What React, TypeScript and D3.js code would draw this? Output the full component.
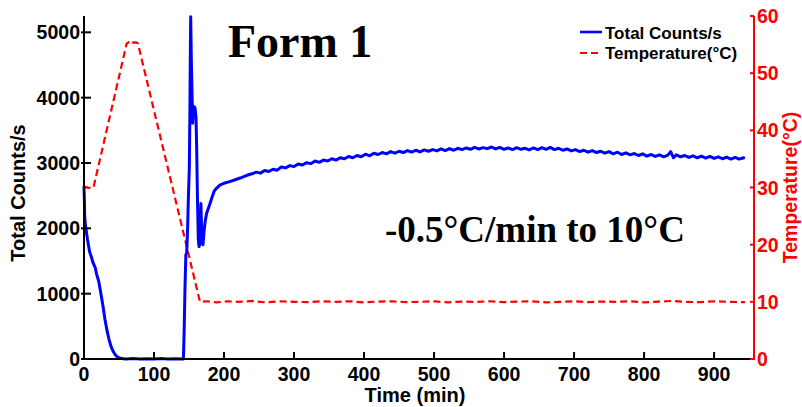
import React from "react";
import * as d3 from "d3";

const W = 802;
const H = 407;

// Total counts/s series (time in min, counts/s)
const countTime = [
  0, 0.5, 1, 2, 3, 5, 8, 10, 13, 16, 18, 21, 24, 27, 30, 33, 36, 39, 42, 45, 48, 52, 56, 60, 70, 80, 90, 100, 110, 120, 130, 140, 142,
  143, 144.3, 145.5, 146.7, 148, 149, 150.5, 151.4, 151.9, 152.4, 153.3, 154.3, 155.2, 156.2, 157.5, 158.6, 160, 161, 162, 163.3, 164.3,
  165.3, 166.3, 167, 167.8, 168.8, 170, 171.4, 173, 175.2, 178, 180, 183, 186, 188, 190, 194, 200, 208, 215, 223, 230, 235,
  240, 246, 252, 258, 264, 270, 276, 282, 288, 294, 300, 306, 312, 318, 324, 330, 336, 342, 348, 354, 360, 366, 372, 378, 384, 390,
  396, 402, 408, 414, 420, 426, 432, 438, 444, 450, 456, 462, 468, 474, 480, 486, 492, 498, 504, 510, 516, 522, 528, 534, 540, 546,
  552, 558, 564, 570, 576, 582, 588, 594, 600, 606, 612, 618, 624, 630, 636, 642, 648, 654, 660, 666, 672, 678, 684, 690, 696, 702,
  708, 714, 720, 726, 732, 738, 744, 750, 756, 762, 768, 774, 780, 786, 792, 798, 804, 810, 816, 822, 828, 834, 838, 842, 846, 852,
  858, 864, 870, 876, 882, 888, 894, 900, 906, 912, 918, 924, 930, 936, 942, 944,
];
const countValue = [
  2650, 2450, 2200, 2050, 1980, 1830, 1640, 1580, 1470, 1400, 1300, 1190, 1010, 820, 600, 430, 290, 180, 110, 60, 30, 10, 5, 0, 8, 0, 5, 0, 6, 0, 4, 0, 0,
  400, 1110, 1600, 1620, 2000, 2430, 2950, 3970, 4700, 5240, 4580, 4070, 3610, 3810, 3860, 3840, 3700, 3200, 2500, 1820, 1720,
  1750, 2100, 2380, 2050, 1780, 1750, 1950, 2100, 2230, 2320, 2380, 2480, 2570, 2600, 2620, 2660, 2690, 2715, 2740, 2770, 2800, 2820,
  2835, 2860, 2845, 2885, 2870, 2905, 2890, 2940, 2925, 2960, 2945, 2985, 2970, 3005, 2990, 3030, 3010, 3045, 3030, 3065, 3045, 3080, 3065, 3100, 3080, 3115,
  3095, 3135, 3110, 3150, 3130, 3160, 3140, 3175, 3150, 3180, 3160, 3190, 3165, 3195, 3170, 3200, 3180, 3205, 3185, 3215, 3190, 3220, 3195, 3225, 3205, 3230,
  3210, 3240, 3215, 3235, 3220, 3245, 3215, 3240, 3210, 3230, 3205, 3235, 3210, 3225, 3200, 3230, 3205, 3235, 3210, 3240, 3205, 3225, 3195, 3215, 3185, 3205,
  3175, 3195, 3165, 3190, 3160, 3180, 3150, 3175, 3140, 3165, 3130, 3155, 3125, 3145, 3115, 3140, 3105, 3130, 3100, 3125, 3095, 3120, 3175, 3080, 3125, 3095,
  3115, 3085, 3110, 3080, 3105, 3075, 3100, 3070, 3095, 3065, 3090, 3060, 3085, 3060, 3080, 3070,
];

// Temperature series (time in min, °C)
const tempTime = [
  0, 3, 6, 9, 12, 13.5, 61, 64, 66, 68, 71, 74, 77, 165.7, 175, 190, 205, 220, 240, 260, 280, 300, 320, 340, 360, 380, 400, 420,
  440, 460, 480, 500, 520, 540, 560, 580, 600, 620, 640, 660, 680, 700, 720, 740, 760, 780, 800, 820, 840, 860, 880, 900, 920, 944,
];
const tempValue = [
  30, 30.1, 29.9, 30, 30.1, 30, 55.2, 55.4, 55.2, 55.5, 55.3, 55.4, 55.2, 10, 10.1, 9.9, 10.1, 10, 10.15, 9.9, 10.1, 10, 9.95, 10.1, 10, 10.1, 9.9, 10.05,
  10.1, 9.95, 10, 10.1, 9.9, 10.05, 10, 10.1, 9.95, 10.05, 10.1, 9.9, 10, 10.1, 9.95, 10.05, 10, 10.1, 9.9, 10.05, 10.15, 10, 9.95, 10.1, 10, 9.95,
];

const xTicks = [0, 100, 200, 300, 400, 500, 600, 700, 800, 900];
const yLeftTicks = [0, 1000, 2000, 3000, 4000, 5000];
const yRightTicks = [0, 10, 20, 30, 40, 50, 60];

const X0 = 84, X1 = 754, Y0 = 359, Y1 = 16;

export default function App() {
  const x = d3.scaleLinear().domain([0, 957]).range([X0, X1]);
  const yL = d3.scaleLinear().domain([0, 5250]).range([Y0, Y1]);
  const yR = d3.scaleLinear().domain([0, 60]).range([Y0, Y1]);

  const countLine = d3
    .line<number>()
    .x((_, i) => x(countTime[i]))
    .y((d) => yL(d))(countValue) as string;
  const tempLine = d3
    .line<number>()
    .x((_, i) => x(tempTime[i]))
    .y((d) => yR(d))(tempValue) as string;

  const sans = "'Liberation Sans', Arial, Helvetica, sans-serif";
  const serif = "'Liberation Serif', 'Times New Roman', serif";

  return (
    <svg width={W} height={H} style={{ position: "absolute", left: 0, top: 0, background: "#fff" }}>
      <rect x={0} y={0} width={W} height={H} fill="#fff" />
      {/* data */}
      <path d={tempLine} fill="none" stroke="#ff0000" strokeWidth={2.2} strokeDasharray="7,4" />
      <path d={countLine} fill="none" stroke="#0000ff" strokeWidth={3} strokeLinejoin="round" />

      {/* axes */}
      <line x1={X0} x2={X1} y1={Y0} y2={Y0} stroke="#000" strokeWidth={2} />
      <line x1={X0} x2={X0} y1={Y1} y2={Y0} stroke="#000" strokeWidth={2} />
      <line x1={X1} x2={X1} y1={Y1} y2={Y0 + 1} stroke="#ff0000" strokeWidth={2} />

      {xTicks.map((t) => (
        <g key={"x" + t}>
          <line x1={x(t)} x2={x(t)} y1={Y0} y2={Y0 - 7} stroke="#000" strokeWidth={2} />
          <text x={x(t)} y={381} textAnchor="middle" fontFamily={sans} fontWeight="bold" fontSize={19.5}>
            {t}
          </text>
        </g>
      ))}
      {yLeftTicks.map((t) => (
        <g key={"l" + t}>
          <line x1={X0 - 3} x2={X0 + 7} y1={yL(t)} y2={yL(t)} stroke="#000" strokeWidth={2} />
          <text x={80} y={yL(t)} dy="0.36em" textAnchor="end" fontFamily={sans} fontWeight="bold" fontSize={19.5}>
            {t}
          </text>
        </g>
      ))}
      {yRightTicks.map((t) => (
        <g key={"r" + t}>
          <line x1={X1 - 4} x2={X1} y1={yR(t)} y2={yR(t)} stroke="#ff0000" strokeWidth={2} />
          <text x={757} y={yR(t)} dy="0.36em" textAnchor="start" fill="#ff0000" fontFamily={sans} fontWeight="bold" fontSize={19.5}>
            {t}
          </text>
        </g>
      ))}

      {/* axis titles */}
      <text x={415} y={402} textAnchor="middle" fontFamily={sans} fontWeight="bold" fontSize={20}>
        Time (min)
      </text>
      <text
        transform={`translate(25, 193) rotate(-90)`}
        textAnchor="middle"
        fontFamily={sans}
        fontWeight="bold"
        fontSize={20}
      >
        Total Counts/s
      </text>
      <text
        transform={`translate(797, ${(Y0 + Y1) / 2}) rotate(-90)`}
        textAnchor="middle"
        fill="#ff0000"
        fontFamily={sans}
        fontWeight="bold"
        fontSize={19.5}
      >
        Temperature(°C)
      </text>

      {/* annotations */}
      <text x={228} y={57} fontFamily={serif} fontWeight="bold" fontSize={46}>
        Form 1
      </text>
      <text x={385} y={242} fontFamily={serif} fontWeight="bold" fontSize={37}>
        -0.5°C/min to 10°C
      </text>

      {/* legend */}
      <line x1={580} x2={602} y1={32} y2={32} stroke="#0000ff" strokeWidth={2.6} />
      <text x={605} y={39} fontFamily={sans} fontWeight="bold" fontSize={17}>
        Total Counts/s
      </text>
      <line x1={580} x2={602} y1={53} y2={53} stroke="#ff0000" strokeWidth={2.2} strokeDasharray="7,4" />
      <text x={605} y={59} fontFamily={sans} fontWeight="bold" fontSize={17}>
        Temperature(°C)
      </text>
    </svg>
  );
}
